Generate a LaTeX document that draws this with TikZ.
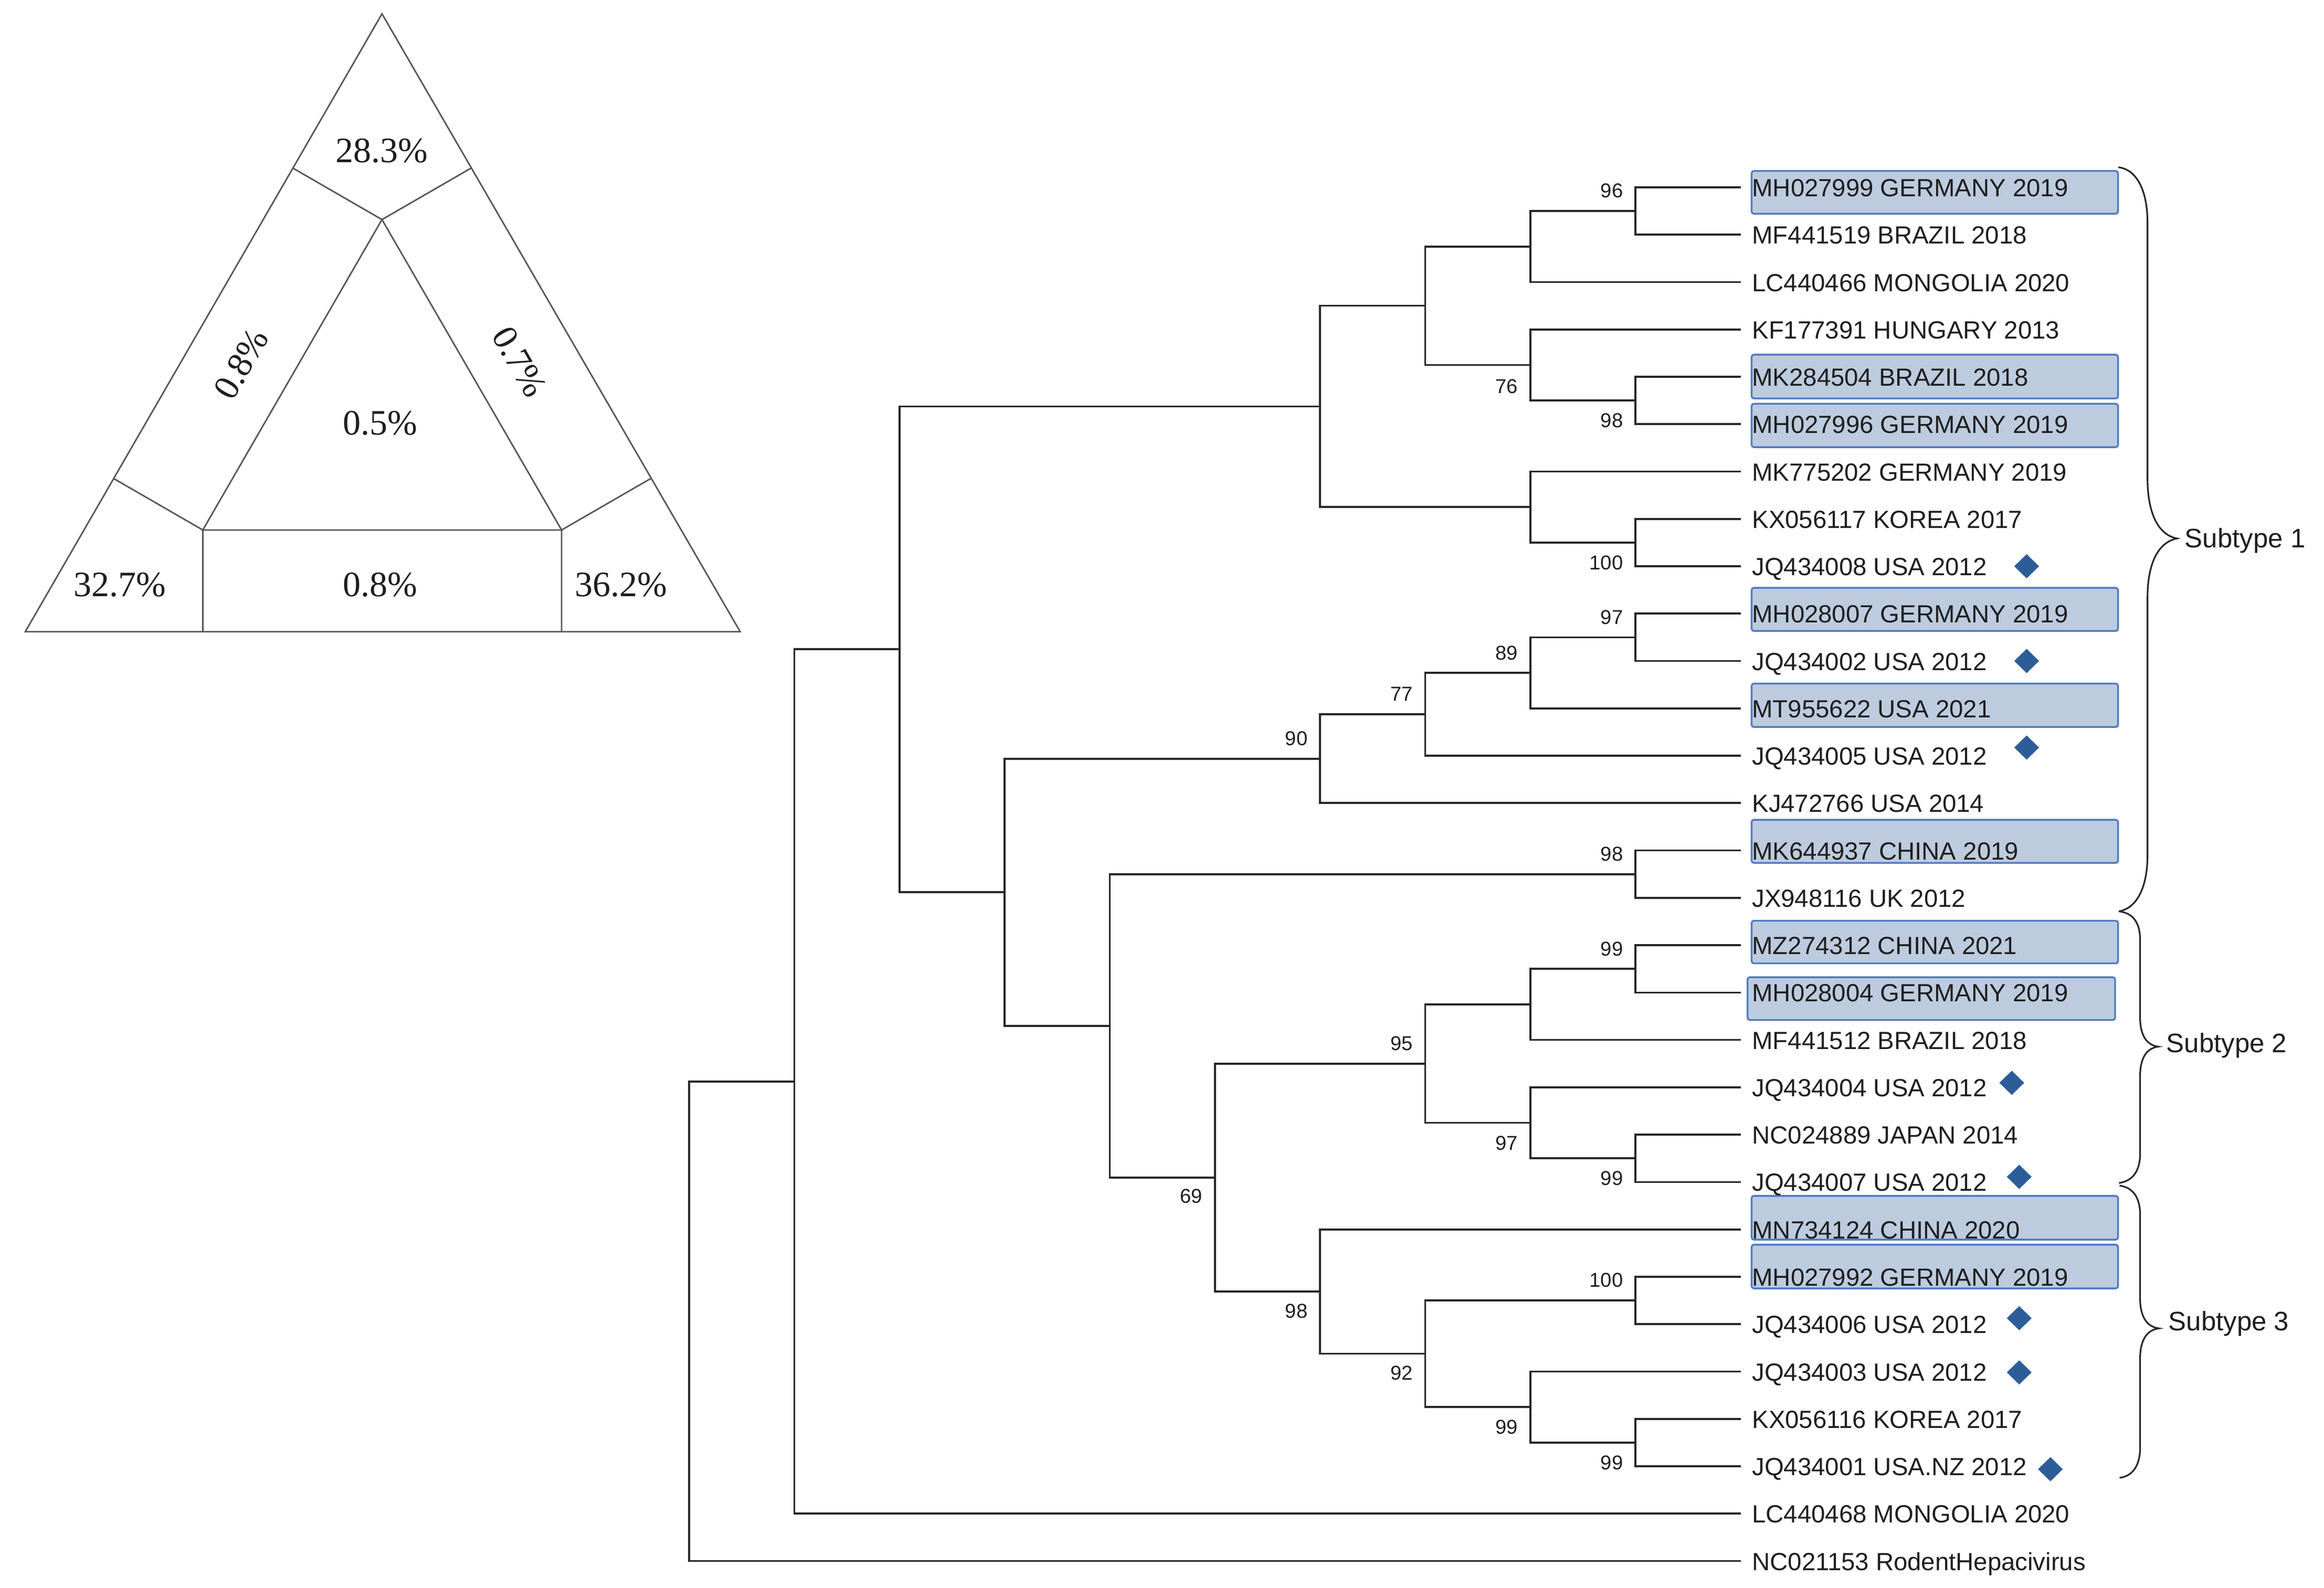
\documentclass[tikz,border=0pt]{standalone}
\usepackage{fontspec}
\setmainfont{Liberation Sans}
\newfontfamily\trifont{Liberation Serif}
\usetikzlibrary{calc,shapes.geometric}
\definecolor{treeline}{HTML}{262626}
\definecolor{trilinec}{HTML}{555555}
\definecolor{boxfill}{HTML}{BDCBDF}
\definecolor{boxdraw}{HTML}{4F7BC0}
\definecolor{diac}{HTML}{2D5D98}
\definecolor{txt}{HTML}{1E1E1E}
\begin{document}
\begin{tikzpicture}[x=0.5pt,y=-0.5pt,
  branch/.style={draw=treeline, line width=0.65pt},
  leaf/.style={anchor=base west, inner sep=0pt, text=txt, font=\fontsize{8.35}{10}\selectfont},
  bs/.style={anchor=east, inner sep=0pt, text=txt, font=\fontsize{6.75}{8}\selectfont},
  subt/.style={anchor=base west, inner sep=0pt, text=txt, font=\fontsize{9}{11}\selectfont},
  tri/.style={inner sep=0pt, text=txt, font=\trifont\fontsize{12}{14}\selectfont},
  triedge/.style={draw=trilinec, line width=0.5pt},
  hl/.style={fill=boxfill, draw=boxdraw, line width=0.6pt, rounded corners=0.8pt},
  diamark/.style={shape=diamond, fill=diac, inner sep=0pt, minimum width=8.5pt, minimum height=8.3pt},
  bracepath/.style={draw=treeline, line width=0.55pt}]
\useasboundingbox (0,0) rectangle (1563,1068);

% ---------- triangle ----------
\coordinate (TA) at (256.9,9.3);
\coordinate (TL) at (17,424.9);
\coordinate (TR) at (497.8,424.9);
\coordinate (IA) at (256.9,147.7);
\coordinate (IL) at (136.4,356.5);
\coordinate (IR) at (377.7,356.5);
\coordinate (PL1) at (197,113.1);
\coordinate (PR1) at (316.8,113.1);
\coordinate (PL2) at (76.5,321.9);
\coordinate (PR2) at (437.6,321.9);
\coordinate (BL) at (136.4,424.9);
\coordinate (BR) at (377.7,424.9);
\draw[triedge] (TA) -- (TL) -- (TR) -- cycle;
\draw[triedge] (IA) -- (IL) -- (IR) -- cycle;
\draw[triedge] (PL1) -- (IA) -- (PR1);
\draw[triedge] (PL2) -- (IL) -- (BL);
\draw[triedge] (PR2) -- (IR) -- (BR);
\node[tri] (p1) at (256.9,101.3) {28.3\%};
\node[tri, rotate=60] (p2) at (162.2,244.8) {0.8\%};
\node[tri, rotate=-60] (p3) at (349.3,243.4) {0.7\%};
\node[tri] (p4) at (255.6,284.7) {0.5\%};
\node[tri] (p5) at (80.6,393.4) {32.7\%};
\node[tri] (p6) at (255.6,393.4) {0.8\%};
\node[tri] (p7) at (417.8,393.4) {36.2\%};

% ---------- highlight boxes ----------
\foreach \a/\b/\c/\d [count=\k] in {1178/115/1424.5/143.8, 1178/238.6/1424.5/268,
  1178/271.6/1424.5/300.8, 1178/395.4/1424.5/424.4, 1178/459.8/1424.5/489,
  1178/551.4/1424.5/580.4, 1178/619.3/1424.5/648, 1175.3/657.3/1422.5/686.1,
  1178/804.4/1424.5/833.8, 1178/837.2/1424.5/866.6}
  \draw[hl] (\a,\b) rectangle (\c,\d);

% ---------- leaves ----------
\foreach \i/\t in {1/MH027999 GERMANY 2019, 2/MF441519 BRAZIL 2018, 3/LC440466 MONGOLIA 2020,
  4/KF177391 HUNGARY 2013, 5/MK284504 BRAZIL 2018, 6/MH027996 GERMANY 2019,
  7/MK775202 GERMANY 2019, 8/KX056117 KOREA 2017, 9/JQ434008 USA 2012,
  10/MH028007 GERMANY 2019, 11/JQ434002 USA 2012, 12/MT955622 USA 2021,
  13/JQ434005 USA 2012, 14/KJ472766 USA 2014, 15/MK644937 CHINA 2019,
  16/JX948116 UK 2012, 17/MZ274312 CHINA 2021, 18/MH028004 GERMANY 2019,
  19/MF441512 BRAZIL 2018, 20/JQ434004 USA 2012, 21/NC024889 JAPAN 2014,
  22/JQ434007 USA 2012, 23/MN734124 CHINA 2020, 24/MH027992 GERMANY 2019,
  25/JQ434006 USA 2012, 26/JQ434003 USA 2012, 27/KX056116 KOREA 2017,
  28/JQ434001 USA.NZ 2012, 29/LC440468 MONGOLIA 2020, 30/NC021153 RodentHepacivirus}
{
  \pgfmathsetmacro\ry{126+(\i-1)*31.86}
  \coordinate (L\i) at (1170.7,\ry);
  \node[leaf] (t\i) at (1178,\ry+6.2) {\t};
}

% ---------- internal nodes ----------
\coordinate (nA) at (1099.98,141.93);
\coordinate (nB) at (1029.26,165.83);
\coordinate (nC) at (1099.98,269.37);
\coordinate (nD) at (1029.26,245.48);
\coordinate (nE) at (958.54,205.65);
\coordinate (nF) at (1099.98,364.95);
\coordinate (nG) at (1029.26,341.06);
\coordinate (nH) at (887.82,273.35);
\coordinate (nI) at (1099.98,428.67);
\coordinate (nJ) at (1029.26,452.57);
\coordinate (nK) at (958.54,480.44);
\coordinate (nL) at (887.82,510.31);
\coordinate (nM) at (1099.98,587.97);
\coordinate (nN) at (1099.98,651.69);
\coordinate (nO) at (1029.26,675.58);
\coordinate (nP) at (1099.98,779.13);
\coordinate (nQ) at (1029.26,755.24);
\coordinate (nR) at (958.54,715.41);
\coordinate (nS) at (1099.98,874.71);
\coordinate (nT) at (1099.98,970.29);
\coordinate (nU) at (1029.26,946.40);
\coordinate (nV) at (958.54,910.55);
\coordinate (nW) at (887.82,868.74);
\coordinate (nX) at (817.1,792.08);
\coordinate (nY) at (746.38,690.02);
\coordinate (nZ) at (675.66,600.17);
\coordinate (n2) at (604.94,436.76);
\coordinate (n1) at (534.22,727.42);
\coordinate (n0) at (463.5,888.68);

\foreach \p/\c in {nA/L1, nA/L2, nB/nA, nB/L3, nC/L5, nC/L6, nD/L4, nD/nC,
  nE/nB, nE/nD, nF/L8, nF/L9, nG/L7, nG/nF, nH/nE, nH/nG,
  nI/L10, nI/L11, nJ/nI, nJ/L12, nK/nJ, nK/L13, nL/nK, nL/L14,
  nM/L15, nM/L16, nN/L17, nN/L18, nO/nN, nO/L19, nP/L21, nP/L22,
  nQ/L20, nQ/nP, nR/nO, nR/nQ, nS/L24, nS/L25, nT/L27, nT/L28,
  nU/L26, nU/nT, nV/nS, nV/nU, nW/L23, nW/nV, nX/nR, nX/nW,
  nY/nM, nY/nX, nZ/nL, nZ/nY, n2/nH, n2/nZ, n1/n2, n1/L29, n0/n1, n0/L30}
  \draw[branch] (\p) |- (\c);

% ---------- bootstrap values ----------
\foreach \n/\v/\dy in {nA/96/-13.5, nC/98/13.5, nD/76/14.5, nF/100/13.5, nI/97/-13.5,
  nJ/89/-13.5, nK/77/-13.5, nL/90/-13.5, nM/98/-13.5, nN/99/-13.5, nP/99/13.5,
  nQ/97/13.5, nR/95/-13.5, nS/100/-13.5, nT/99/13.5, nU/99/13.5, nV/92/12.8,
  nW/98/13, nX/69/12.5}
  \node[bs] (b\n) at ($(\n)+(-8,\dy)$) {\v};

% ---------- diamonds ----------
\foreach \i/\x/\dy in {9/1363/0, 11/1363/0, 13/1363/-5.5, 20/1353/-3, 22/1358/-3.5,
  25/1358/-4, 26/1358/0.6, 28/1379/2}
  \node[diamark] (d\i) at (\x,{126+(\i-1)*31.86+\dy}) {};

% ---------- braces ----------
\draw[bracepath] (1424.7,112.5) .. controls (1437,114) and (1444.3,128) .. (1444.3,150)
  -- (1444.3,322) .. controls (1444.3,346) and (1452,360) .. (1464.2,362.2)
  .. controls (1452,364.5) and (1444.3,378) .. (1444.3,402)
  -- (1444.3,575) .. controls (1444.3,597) and (1437,611) .. (1425,613);
\draw[bracepath] (1425.1,613) .. controls (1434,614) and (1439.3,620) .. (1439.3,632)
  -- (1439.3,684) .. controls (1439.3,697) and (1444,703) .. (1451.5,704)
  .. controls (1444,705) and (1439.3,711) .. (1439.3,724)
  -- (1439.3,776) .. controls (1439.3,788) and (1434,794.5) .. (1425.1,795.7);
\draw[bracepath] (1425.5,797.5) .. controls (1434,798.5) and (1439.3,805) .. (1439.3,817)
  -- (1439.3,873) .. controls (1439.3,886) and (1444,892.5) .. (1452,893.5)
  .. controls (1444,894.5) and (1439.3,901) .. (1439.3,914)
  -- (1439.3,974) .. controls (1439.3,986) and (1434,993) .. (1425.5,994);
\node[subt] (s1) at (1469,368.4) {Subtype 1};
\node[subt] (s2) at (1456.6,708) {Subtype 2};
\node[subt] (s3) at (1458,895) {Subtype 3};
\end{tikzpicture}
\end{document}
